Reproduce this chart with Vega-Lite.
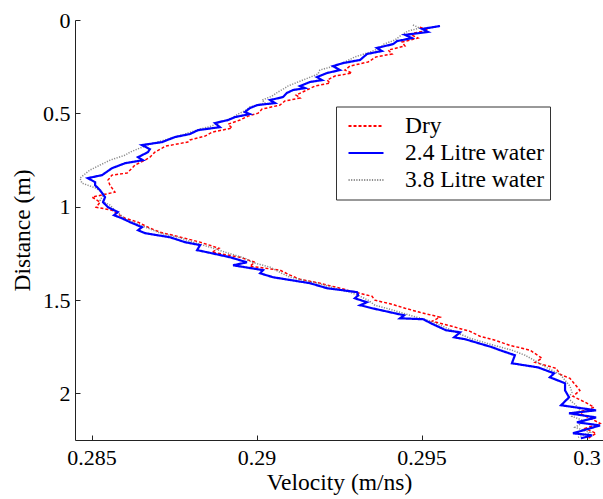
{
  "$schema": "https://vega.github.io/schema/vega-lite/v6.json",
  "width": 528,
  "height": 420,
  "autosize": "none",
  "padding": {"left": 75, "top": 20, "right": 0, "bottom": 59},
  "background": "white",
  "config": {
    "view": {"stroke": null},
    "font": "Liberation Serif",
    "axis": {
      "domainColor": "#222",
      "domainWidth": 1,
      "tickColor": "#222",
      "tickSize": -5,
      "grid": false,
      "labelFont": "Liberation Serif",
      "labelFontSize": 22,
      "labelColor": "black",
      "titleFont": "Liberation Serif",
      "titleFontSize": 23.5,
      "titleFontWeight": "normal",
      "titleColor": "black"
    },
    "legend": {
      "labelFont": "Liberation Serif",
      "labelFontSize": 23.5,
      "labelColor": "black"
    }
  },
  "datasets": {
    "dry": [
      {"v":0.29495,"d":0.038},{"v":0.29520,"d":0.054},{"v":0.29465,"d":0.075},{"v":0.29489,"d":0.097},{"v":0.29441,"d":0.118},{"v":0.29450,"d":0.139},{"v":0.29399,"d":0.161},{"v":0.29411,"d":0.182},{"v":0.29362,"d":0.198},{"v":0.29338,"d":0.225},{"v":0.29283,"d":0.247},{"v":0.29268,"d":0.268},{"v":0.29289,"d":0.284},{"v":0.29238,"d":0.300},{"v":0.29214,"d":0.322},{"v":0.29223,"d":0.338},{"v":0.29177,"d":0.354},{"v":0.29153,"d":0.375},{"v":0.29120,"d":0.402},{"v":0.29132,"d":0.418},{"v":0.29086,"d":0.434},{"v":0.29071,"d":0.456},{"v":0.29017,"d":0.477},{"v":0.29005,"d":0.499},{"v":0.28974,"d":0.515},{"v":0.28950,"d":0.536},{"v":0.28914,"d":0.558},{"v":0.28926,"d":0.579},{"v":0.28865,"d":0.601},{"v":0.28844,"d":0.622},{"v":0.28798,"d":0.643},{"v":0.28792,"d":0.654},{"v":0.28723,"d":0.676},{"v":0.28714,"d":0.686},{"v":0.28692,"d":0.708},{"v":0.28677,"d":0.735},{"v":0.28662,"d":0.751},{"v":0.28632,"d":0.777},{"v":0.28608,"d":0.820},{"v":0.28562,"d":0.831},{"v":0.28550,"d":0.858},{"v":0.28556,"d":0.885},{"v":0.28571,"d":0.922},{"v":0.28502,"d":0.949},{"v":0.28526,"d":0.976},{"v":0.28514,"d":1.003},{"v":0.28562,"d":1.019},{"v":0.28580,"d":1.040},{"v":0.28602,"d":1.062},{"v":0.28641,"d":1.083},{"v":0.28677,"d":1.115},{"v":0.28708,"d":1.137},{"v":0.28783,"d":1.169},{"v":0.28829,"d":1.190},{"v":0.28886,"d":1.223},{"v":0.28865,"d":1.244},{"v":0.28950,"d":1.271},{"v":0.28995,"d":1.298},{"v":0.28980,"d":1.319},{"v":0.29071,"d":1.340},{"v":0.29102,"d":1.367},{"v":0.29132,"d":1.389},{"v":0.29192,"d":1.410},{"v":0.29253,"d":1.437},{"v":0.29298,"d":1.458},{"v":0.29350,"d":1.480},{"v":0.29359,"d":1.501},{"v":0.29411,"d":1.523},{"v":0.29450,"d":1.544},{"v":0.29495,"d":1.566},{"v":0.29556,"d":1.592},{"v":0.29532,"d":1.614},{"v":0.29592,"d":1.641},{"v":0.29647,"d":1.668},{"v":0.29677,"d":1.694},{"v":0.29723,"d":1.716},{"v":0.29768,"d":1.743},{"v":0.29829,"d":1.769},{"v":0.29865,"d":1.812},{"v":0.29844,"d":1.834},{"v":0.29908,"d":1.866},{"v":0.29920,"d":1.898},{"v":0.29950,"d":1.920},{"v":0.29965,"d":1.952},{"v":0.29980,"d":1.984},{"v":0.29959,"d":2.016},{"v":0.29996,"d":2.048},{"v":0.30023,"d":2.075},{"v":0.29974,"d":2.102},{"v":0.30011,"d":2.134},{"v":0.30041,"d":2.161},{"v":0.29996,"d":2.188},{"v":0.30029,"d":2.214},{"v":0.30005,"d":2.241}
    ],
    "w38": [
      {"v":0.29474,"d":0.027},{"v":0.29495,"d":0.043},{"v":0.29459,"d":0.059},{"v":0.29435,"d":0.086},{"v":0.29420,"d":0.107},{"v":0.29386,"d":0.129},{"v":0.29374,"d":0.150},{"v":0.29344,"d":0.172},{"v":0.29298,"d":0.198},{"v":0.29268,"d":0.225},{"v":0.29247,"d":0.241},{"v":0.29192,"d":0.268},{"v":0.29186,"d":0.290},{"v":0.29156,"d":0.311},{"v":0.29126,"d":0.332},{"v":0.29095,"d":0.354},{"v":0.29086,"d":0.365},{"v":0.29065,"d":0.386},{"v":0.29047,"d":0.408},{"v":0.29017,"d":0.429},{"v":0.29026,"d":0.445},{"v":0.28980,"d":0.466},{"v":0.28968,"d":0.483},{"v":0.28944,"d":0.504},{"v":0.28926,"d":0.525},{"v":0.28889,"d":0.547},{"v":0.28865,"d":0.568},{"v":0.28829,"d":0.584},{"v":0.28783,"d":0.611},{"v":0.28732,"d":0.638},{"v":0.28677,"d":0.665},{"v":0.28647,"d":0.686},{"v":0.28617,"d":0.708},{"v":0.28602,"d":0.724},{"v":0.28556,"d":0.751},{"v":0.28526,"d":0.777},{"v":0.28495,"d":0.804},{"v":0.28465,"d":0.847},{"v":0.28471,"d":0.874},{"v":0.28514,"d":0.901},{"v":0.28538,"d":0.933},{"v":0.28526,"d":0.965},{"v":0.28556,"d":0.992},{"v":0.28571,"d":1.019},{"v":0.28586,"d":1.040},{"v":0.28602,"d":1.067},{"v":0.28632,"d":1.088},{"v":0.28671,"d":1.115},{"v":0.28708,"d":1.142},{"v":0.28762,"d":1.164},{"v":0.28798,"d":1.185},{"v":0.28859,"d":1.217},{"v":0.28905,"d":1.244},{"v":0.28965,"d":1.276},{"v":0.28986,"d":1.298},{"v":0.29041,"d":1.324},{"v":0.29077,"d":1.357},{"v":0.29102,"d":1.378},{"v":0.29186,"d":1.410},{"v":0.29238,"d":1.437},{"v":0.29283,"d":1.458},{"v":0.29314,"d":1.480},{"v":0.29338,"d":1.501},{"v":0.29359,"d":1.528},{"v":0.29405,"d":1.550},{"v":0.29465,"d":1.582},{"v":0.29520,"d":1.609},{"v":0.29571,"d":1.646},{"v":0.29611,"d":1.678},{"v":0.29647,"d":1.705},{"v":0.29708,"d":1.737},{"v":0.29774,"d":1.769},{"v":0.29814,"d":1.796},{"v":0.29853,"d":1.834},{"v":0.29883,"d":1.866},{"v":0.29920,"d":1.898},{"v":0.29935,"d":1.930},{"v":0.29950,"d":1.962},{"v":0.29956,"d":1.995},{"v":0.29944,"d":2.027},{"v":0.29965,"d":2.059},{"v":0.29980,"d":2.091},{"v":0.29956,"d":2.123},{"v":0.29996,"d":2.150},{"v":0.29965,"d":2.182},{"v":0.30011,"d":2.209},{"v":0.29974,"d":2.236}
    ],
    "w24": [
      {"v":0.29556,"d":0.032},{"v":0.29502,"d":0.048},{"v":0.29520,"d":0.064},{"v":0.29450,"d":0.080},{"v":0.29471,"d":0.097},{"v":0.29426,"d":0.113},{"v":0.29414,"d":0.129},{"v":0.29365,"d":0.150},{"v":0.29380,"d":0.166},{"v":0.29335,"d":0.182},{"v":0.29314,"d":0.214},{"v":0.29262,"d":0.231},{"v":0.29232,"d":0.247},{"v":0.29253,"d":0.268},{"v":0.29214,"d":0.284},{"v":0.29183,"d":0.306},{"v":0.29199,"d":0.322},{"v":0.29162,"d":0.332},{"v":0.29132,"d":0.354},{"v":0.29147,"d":0.365},{"v":0.29111,"d":0.375},{"v":0.29092,"d":0.391},{"v":0.29080,"d":0.413},{"v":0.29041,"d":0.429},{"v":0.29056,"d":0.445},{"v":0.29002,"d":0.456},{"v":0.28980,"d":0.472},{"v":0.28965,"d":0.493},{"v":0.28980,"d":0.504},{"v":0.28935,"d":0.520},{"v":0.28914,"d":0.536},{"v":0.28874,"d":0.552},{"v":0.28889,"d":0.574},{"v":0.28823,"d":0.590},{"v":0.28798,"d":0.611},{"v":0.28753,"d":0.627},{"v":0.28714,"d":0.654},{"v":0.28653,"d":0.670},{"v":0.28677,"d":0.692},{"v":0.28671,"d":0.708},{"v":0.28641,"d":0.735},{"v":0.28656,"d":0.751},{"v":0.28602,"d":0.767},{"v":0.28562,"d":0.794},{"v":0.28532,"d":0.831},{"v":0.28489,"d":0.847},{"v":0.28511,"d":0.869},{"v":0.28511,"d":0.885},{"v":0.28526,"d":0.912},{"v":0.28541,"d":0.949},{"v":0.28535,"d":0.976},{"v":0.28550,"d":1.003},{"v":0.28580,"d":1.029},{"v":0.28568,"d":1.046},{"v":0.28592,"d":1.062},{"v":0.28617,"d":1.083},{"v":0.28653,"d":1.110},{"v":0.28641,"d":1.126},{"v":0.28662,"d":1.142},{"v":0.28738,"d":1.164},{"v":0.28783,"d":1.190},{"v":0.28829,"d":1.206},{"v":0.28820,"d":1.233},{"v":0.28850,"d":1.244},{"v":0.28920,"d":1.271},{"v":0.28971,"d":1.298},{"v":0.28929,"d":1.314},{"v":0.29020,"d":1.340},{"v":0.29011,"d":1.357},{"v":0.29050,"d":1.378},{"v":0.29162,"d":1.410},{"v":0.29214,"d":1.437},{"v":0.29305,"d":1.458},{"v":0.29308,"d":1.475},{"v":0.29298,"d":1.491},{"v":0.29335,"d":1.512},{"v":0.29314,"d":1.528},{"v":0.29350,"d":1.544},{"v":0.29447,"d":1.582},{"v":0.29435,"d":1.598},{"v":0.29505,"d":1.603},{"v":0.29529,"d":1.625},{"v":0.29574,"d":1.662},{"v":0.29617,"d":1.673},{"v":0.29599,"d":1.700},{"v":0.29632,"d":1.710},{"v":0.29714,"d":1.753},{"v":0.29738,"d":1.769},{"v":0.29783,"d":1.796},{"v":0.29774,"d":1.839},{"v":0.29853,"d":1.861},{"v":0.29902,"d":1.893},{"v":0.29889,"d":1.914},{"v":0.29935,"d":1.946},{"v":0.29935,"d":1.984},{"v":0.29947,"d":2.021},{"v":0.29923,"d":2.064},{"v":0.30029,"d":2.091},{"v":0.29947,"d":2.107},{"v":0.30029,"d":2.129},{"v":0.29971,"d":2.155},{"v":0.30041,"d":2.172},{"v":0.29959,"d":2.214},{"v":0.30017,"d":2.225},{"v":0.29983,"d":2.241}
    ]
  },
  "layer": [
    {
      "data": {"name": "dry"},
      "transform": [{"calculate": "'Dry'", "as": "series"}],
      "mark": {"type": "line", "clip": true, "strokeWidth": 1.5},
      "encoding": {
        "x": {"field": "v", "type": "quantitative"},
        "y": {"field": "d", "type": "quantitative"},
        "order": {"field": "d"},
        "color": {"field": "series"},
        "strokeDash": {"field": "series"}
      }
    },
    {
      "data": {"name": "w38"},
      "transform": [{"calculate": "'3.8 Litre water'", "as": "series"}],
      "mark": {"type": "line", "clip": true, "strokeWidth": 1.5},
      "encoding": {
        "x": {"field": "v", "type": "quantitative"},
        "y": {"field": "d", "type": "quantitative"},
        "order": {"field": "d"},
        "color": {"field": "series"},
        "strokeDash": {"field": "series"}
      }
    },
    {
      "data": {"name": "w24"},
      "transform": [{"calculate": "'2.4 Litre water'", "as": "series"}],
      "mark": {"type": "line", "clip": true, "strokeWidth": 2.2},
      "encoding": {
        "x": {
          "field": "v", "type": "quantitative",
          "scale": {"domain": [0.2845, 0.3005], "zero": false, "nice": false},
          "axis": {"title": "Velocity (m/ns)", "values": [0.285, 0.29, 0.295, 0.3], "format": ".3~f", "labelPadding": 12, "titlePadding": 2}
        },
        "y": {
          "field": "d", "type": "quantitative",
          "scale": {"domain": [0, 2.25], "reverse": true, "nice": false, "zero": false},
          "axis": {"title": "Distance (m)", "values": [0, 0.5, 1, 1.5, 2], "format": "~g", "labelPadding": 10, "titlePadding": 8}
        },
        "order": {"field": "d"},
        "color": {
          "field": "series", "type": "nominal",
          "scale": {"domain": ["Dry", "2.4 Litre water", "3.8 Litre water"], "range": ["#ff0000", "#0000ff", "#8c8c8c"]},
          "legend": {
            "title": null, "orient": "none", "legendX": 261, "legendY": 86.5,
            "strokeColor": "#333", "fillColor": "white", "padding": 6,
            "symbolType": "stroke", "symbolSize": 1225, "symbolStrokeWidth": 1.8,
            "clipHeight": 27, "rowPadding": 0, "labelOffset": 20.5, "symbolOffset": 5.5
          }
        },
        "strokeDash": {
          "field": "series", "type": "nominal",
          "scale": {"domain": ["Dry", "2.4 Litre water", "3.8 Litre water"], "range": [[3, 2], [1, 0], [1.2, 1.4]]},
          "legend": {
            "title": null, "orient": "none", "legendX": 261, "legendY": 86.5,
            "strokeColor": "#333", "fillColor": "white", "padding": 6,
            "symbolType": "stroke", "symbolSize": 1225, "symbolStrokeWidth": 1.8,
            "clipHeight": 27, "rowPadding": 0, "labelOffset": 20.5, "symbolOffset": 5.5
          }
        }
      }
    }
  ]
}
